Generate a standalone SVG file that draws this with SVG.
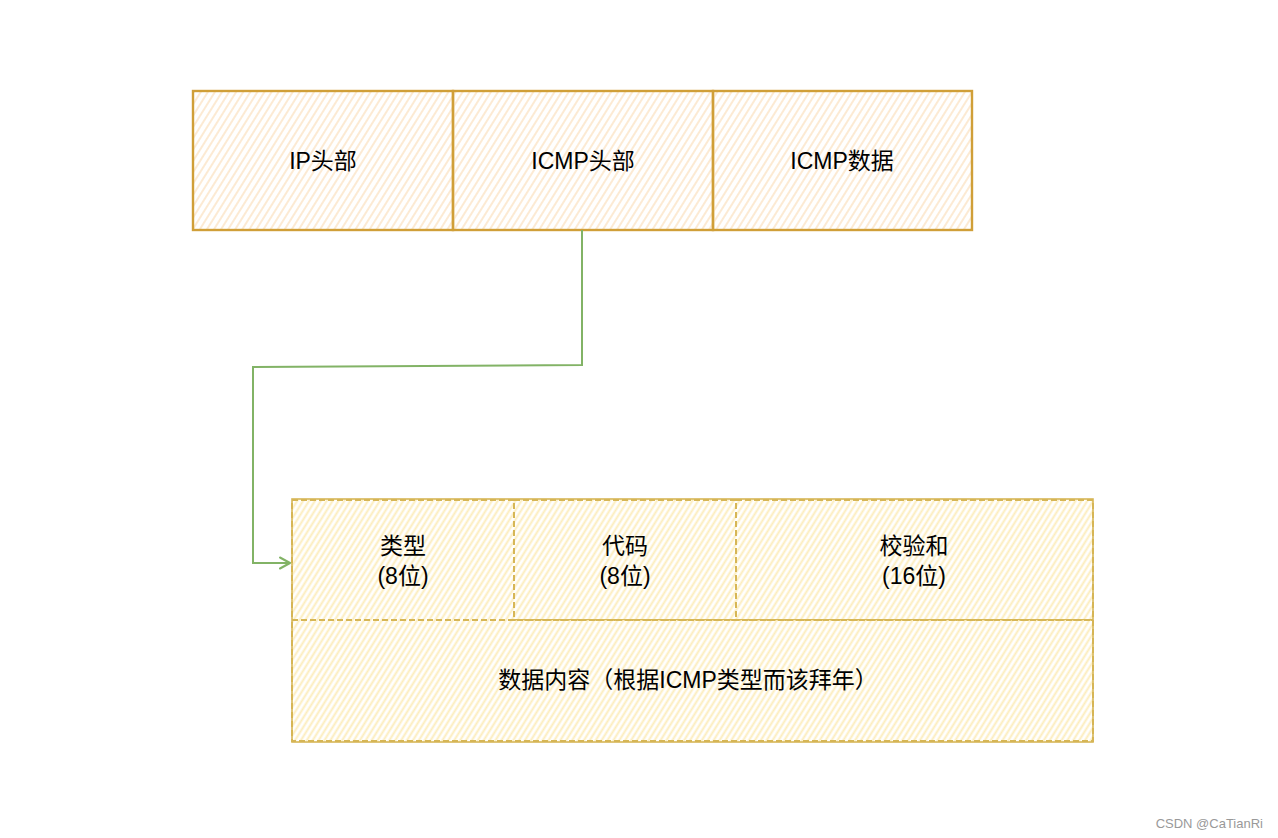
<svg xmlns="http://www.w3.org/2000/svg" width="1278" height="838" viewBox="0 0 1278 838">
<defs>
<pattern id="hOrange" width="6" height="6" patternUnits="userSpaceOnUse" patternTransform="rotate(32)">
<line x1="3" y1="0" x2="3" y2="6" stroke="#fbe1c0" stroke-width="1.4"/>
</pattern>
<pattern id="hYellow" width="5" height="5" patternUnits="userSpaceOnUse" patternTransform="rotate(32)">
<line x1="2.5" y1="0" x2="2.5" y2="5" stroke="#fcedbd" stroke-width="2"/>
</pattern>
<marker id="arr" markerWidth="14" markerHeight="14" refX="11" refY="7" orient="auto" markerUnits="userSpaceOnUse">
<path d="M1,1.5 L11,7 L1,12.5" fill="none" stroke="#82b366" stroke-width="2" stroke-linecap="round" stroke-linejoin="round"/>
</marker>
</defs>
<style>
.t{font-family:"Helvetica","Liberation Sans","Noto Sans CJK SC",sans-serif;font-size:23px;fill:#000;text-anchor:middle;}
.top{fill:url(#hOrange);stroke:#d09f38;stroke-width:2.4;}
.bot{fill:url(#hYellow);stroke:#d6b656;stroke-width:2;stroke-dasharray:6 3;}
.outer{fill:none;stroke:#d6b656;stroke-width:1.6;}
.conn{fill:none;stroke:#82b366;stroke-width:2;}
</style>
<rect width="1278" height="838" fill="#fff"/>
<g id="ip-header">
<rect class="top" x="193" y="91" width="260" height="139"/>
<text class="t" x="323" y="169">IP头部</text>
</g>
<g id="icmp-header">
<rect class="top" x="453" y="91" width="260" height="139"/>
<text class="t" x="583" y="169">ICMP头部</text>
</g>
<g id="icmp-data">
<rect class="top" x="713" y="91" width="259" height="139"/>
<text class="t" x="842" y="169">ICMP数据</text>
</g>
<g id="type">
<rect class="bot" x="292" y="500" width="222" height="120"/>
<text class="t" x="403" y="554">类型</text>
<text class="t" x="403" y="584">(8位)</text>
</g>
<g id="code">
<rect class="bot" x="514" y="500" width="222" height="120"/>
<text class="t" x="625" y="554">代码</text>
<text class="t" x="625" y="584">(8位)</text>
</g>
<g id="checksum">
<rect class="bot" x="736" y="500" width="357" height="120"/>
<text class="t" x="914" y="554">校验和</text>
<text class="t" x="914" y="584">(16位)</text>
</g>
<g id="data-content">
<rect class="bot" x="292" y="620" width="801" height="121"/>
<text class="t" x="688" y="688">数据内容（根据ICMP类型而该拜年）</text>
</g>
<g id="frame">
<rect class="outer" x="292" y="499" width="801" height="243"/>
</g>
<g id="connectors">
<path class="conn" d="M582,230 L582,365 L253,367 L253,563 L290,563" marker-end="url(#arr)"/>
</g>
<text x="1263" y="828" style="font-family:'Liberation Sans',sans-serif;font-size:13px;fill:#999;text-anchor:end;">CSDN @CaTianRi</text>
</svg>
